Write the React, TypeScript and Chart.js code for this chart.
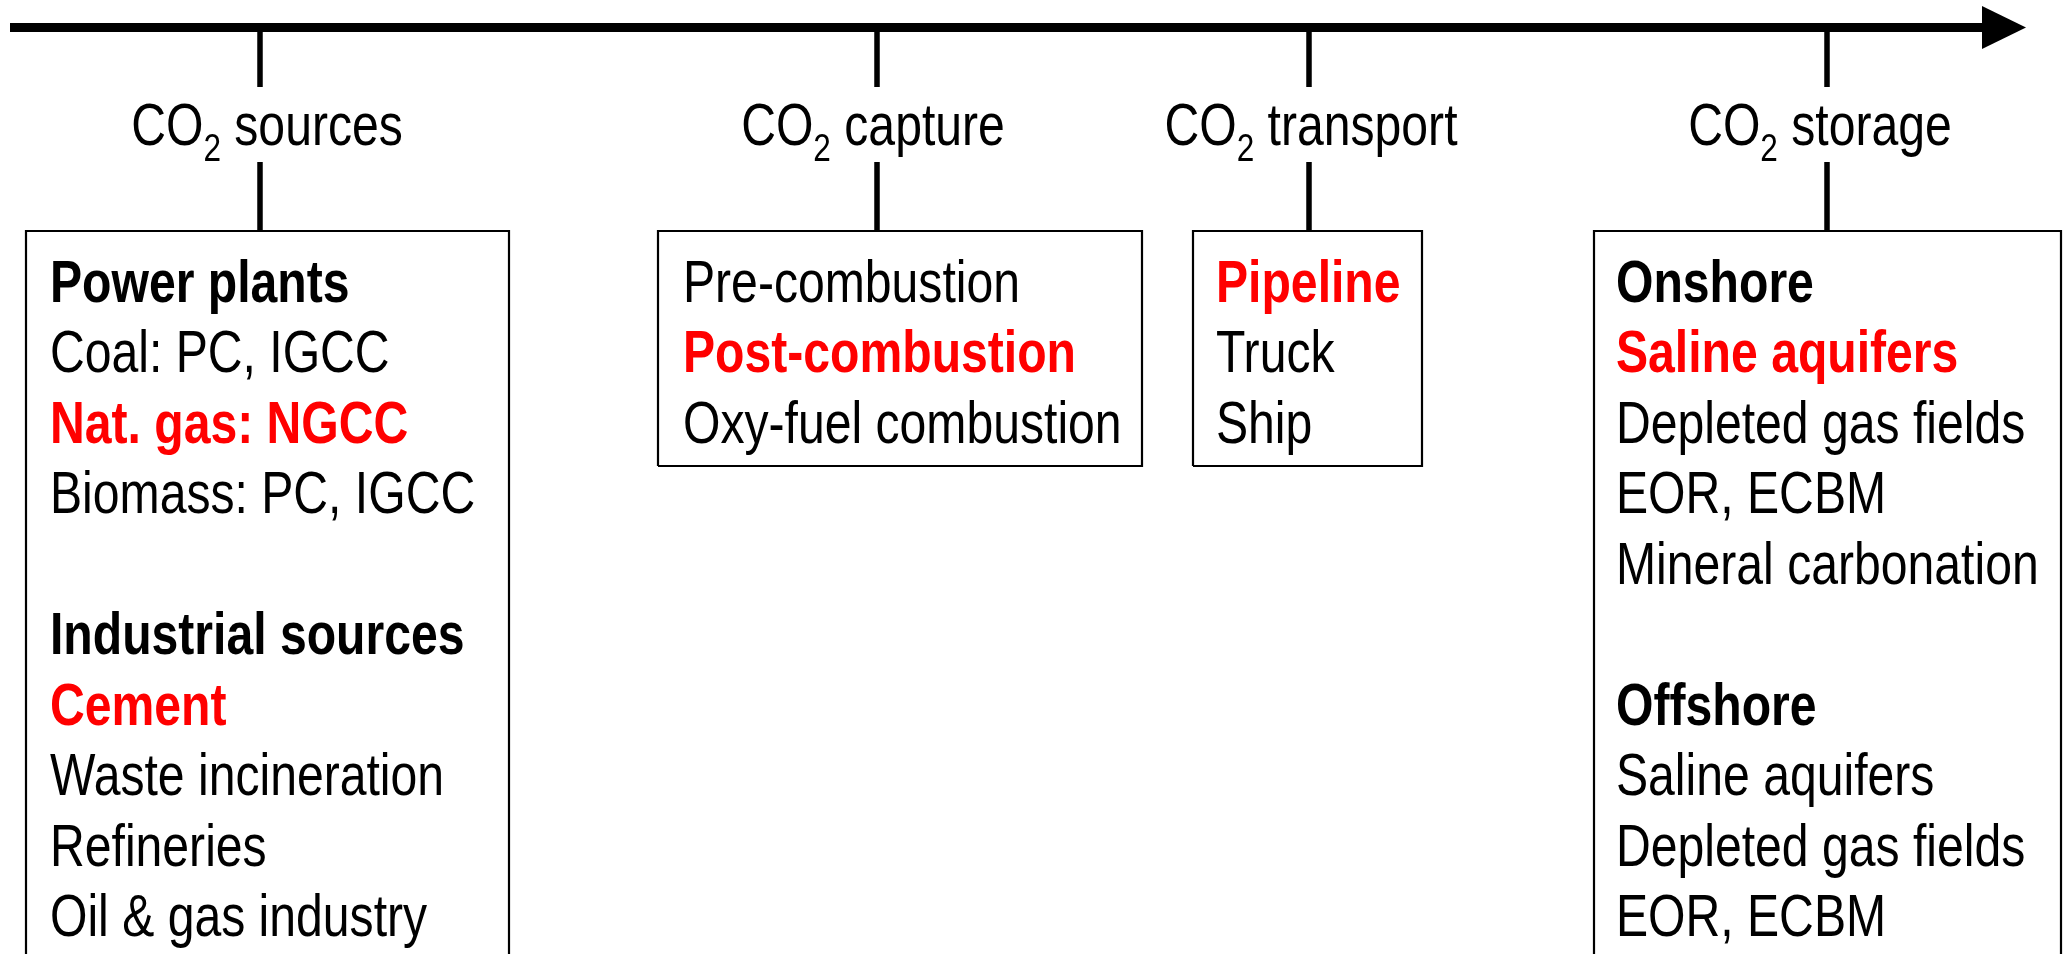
import React, { useEffect, useRef } from "react";
import Chart from "chart.js/auto";

// ---- content ----
const stageNames = ["sources", "capture", "transport", "storage"];
const stageTickX = [260, 877, 1309, 1827];
const stageLabelX = [267, 873, 1311, 1820];
const boxLeft = [26, 658, 1193, 1594];
const boxRight = [509, 1142, 1422, 2061];
const boxBottom = [1000, 466, 466, 1000];
const textX = [50, 683, 1216, 1616];

const sourcesItems: [string, string][] = [
  ["Power plants", "b"],
  ["Coal: PC, IGCC", "n"],
  ["Nat. gas: NGCC", "r"],
  ["Biomass: PC, IGCC", "n"],
  ["", "n"],
  ["Industrial sources", "b"],
  ["Cement", "r"],
  ["Waste incineration", "n"],
  ["Refineries", "n"],
  ["Oil & gas industry", "n"],
];
const captureItems: [string, string][] = [
  ["Pre-combustion", "n"],
  ["Post-combustion", "r"],
  ["Oxy-fuel combustion", "n"],
];
const transportItems: [string, string][] = [
  ["Pipeline", "r"],
  ["Truck", "n"],
  ["Ship", "n"],
];
const storageItems: [string, string][] = [
  ["Onshore", "b"],
  ["Saline aquifers", "r"],
  ["Depleted gas fields", "n"],
  ["EOR, ECBM", "n"],
  ["Mineral carbonation", "n"],
  ["", "n"],
  ["Offshore", "b"],
  ["Saline aquifers", "n"],
  ["Depleted gas fields", "n"],
  ["EOR, ECBM", "n"],
];
const stageItems = [sourcesItems, captureItems, transportItems, storageItems];

// ---- layout (data units == pixels of the 2067x954 frame) ----
const W = 2067;
const H = 954;
const AXIS_Y = 27.5;
const AXIS_X0 = 10;
const AXIS_X1 = 1982;
const ARROW_TIP = 2026;
const ARROW_HALF = 21.5;
const TICK_TOP = [32, 87];
const TICK_BOT = [162, 230];
const BOX_TOP = 231;
const ROW0 = 301.5;
const ROW_STEP = 70.5;
const LABEL_BASE = 145;
const FONT_SIZE = 58.7;
const SUB_SIZE = 38.5;
const SUB_DROP = 15.5;
const RED = "#FF0000";

let fontInfo: { family: string; sx: number } | null = null;
function detectFont(ctx: CanvasRenderingContext2D) {
  if (fontInfo) return fontInfo;
  const probe = "Coal: PC, IGCC";
  ctx.save();
  ctx.font = "100px monospace";
  const base = ctx.measureText(probe).width;
  const cands = ["'Liberation Sans Narrow'", "'Arial Narrow'"];
  for (const c of cands) {
    ctx.font = `100px ${c}, monospace`;
    const w = ctx.measureText(probe).width;
    if (Math.abs(w - base) > 1) {
      ctx.restore();
      fontInfo = { family: c, sx: 1 };
      return fontInfo;
    }
  }
  ctx.restore();
  fontInfo = { family: "'Liberation Sans', Arial, sans-serif", sx: 0.82 };
  return fontInfo;
}

function runWidth(ctx: CanvasRenderingContext2D, text: string, size: number, weight: string) {
  const f = detectFont(ctx);
  ctx.save();
  ctx.font = `${weight} ${size}px ${f.family}`;
  const w = ctx.measureText(text).width * f.sx;
  ctx.restore();
  return w;
}

function drawRun(
  ctx: CanvasRenderingContext2D,
  x: number,
  y: number,
  text: string,
  size: number,
  weight: string,
  color: string
) {
  const f = detectFont(ctx);
  ctx.save();
  ctx.font = `${weight} ${size}px ${f.family}`;
  ctx.fillStyle = color;
  ctx.textAlign = "left";
  ctx.textBaseline = "alphabetic";
  ctx.translate(x, y);
  ctx.scale(f.sx, 1);
  ctx.fillText(text, 0, 0);
  ctx.restore();
  return runWidth(ctx, text, size, weight);
}

const textPlugin = {
  id: "ccsText",
  afterDatasetsDraw(chart: any) {
    const ctx: CanvasRenderingContext2D = chart.ctx;
    const xs = chart.scales.x;
    const ys = chart.scales.y;
    // arrow head
    ctx.save();
    ctx.fillStyle = "#000";
    ctx.beginPath();
    ctx.moveTo(xs.getPixelForValue(AXIS_X1), ys.getPixelForValue(AXIS_Y - ARROW_HALF));
    ctx.lineTo(xs.getPixelForValue(ARROW_TIP), ys.getPixelForValue(AXIS_Y));
    ctx.lineTo(xs.getPixelForValue(AXIS_X1), ys.getPixelForValue(AXIS_Y + ARROW_HALF));
    ctx.closePath();
    ctx.fill();
    ctx.restore();

    stageNames.forEach((name, i) => {
      // stage label: CO₂ + name
      const parts: [string, number, number][] = [
        ["CO", FONT_SIZE, 0],
        ["2", SUB_SIZE, SUB_DROP],
        [" " + name, FONT_SIZE, 0],
      ];
      const total = parts.reduce((s, p) => s + runWidth(ctx, p[0], p[1], "normal"), 0);
      let x = xs.getPixelForValue(stageLabelX[i]) - total / 2;
      const yb = ys.getPixelForValue(LABEL_BASE);
      for (const p of parts) {
        x += drawRun(ctx, x, yb + p[2], p[0], p[1], "normal", "#000");
      }
      // items
      stageItems[i].forEach((it, r) => {
        if (!it[0]) return;
        const weight = it[1] === "n" ? "normal" : "bold";
        const color = it[1] === "r" ? RED : "#000";
        drawRun(
          ctx,
          xs.getPixelForValue(textX[i]),
          ys.getPixelForValue(ROW0 + r * ROW_STEP),
          it[0],
          FONT_SIZE,
          weight,
          color
        );
      });
    });
  },
};

function buildDatasets() {
  const ds: any[] = [];
  ds.push({
    data: [
      { x: AXIS_X0, y: AXIS_Y },
      { x: AXIS_X1 + 1, y: AXIS_Y },
    ],
    borderColor: "#000",
    borderWidth: 9,
  });
  stageTickX.forEach((tx) => {
    ds.push({
      data: [
        { x: tx, y: TICK_TOP[0] },
        { x: tx, y: TICK_TOP[1] },
      ],
      borderColor: "#000",
      borderWidth: 5.5,
    });
    ds.push({
      data: [
        { x: tx, y: TICK_BOT[0] },
        { x: tx, y: TICK_BOT[1] },
      ],
      borderColor: "#000",
      borderWidth: 5.5,
    });
  });
  stageNames.forEach((_, i) => {
    ds.push({
      data: [
        { x: boxLeft[i], y: boxBottom[i] },
        { x: boxLeft[i], y: BOX_TOP },
        { x: boxRight[i], y: BOX_TOP },
        { x: boxRight[i], y: boxBottom[i] },
        { x: boxLeft[i], y: boxBottom[i] },
      ],
      borderColor: "#000",
      borderWidth: 2.2,
    });
  });
  return ds.map((d) => ({
    ...d,
    showLine: true,
    pointRadius: 0,
    pointHoverRadius: 0,
    fill: false,
    tension: 0,
    clip: false,
    borderCapStyle: "butt",
    borderJoinStyle: "miter",
  }));
}

export default function App() {
  const ref = useRef<HTMLCanvasElement | null>(null);
  useEffect(() => {
    document.body.style.margin = "0";
    const canvas = ref.current!;
    const chart = new Chart(canvas, {
      type: "scatter",
      data: { datasets: buildDatasets() },
      options: {
        animation: false,
        responsive: false,
        devicePixelRatio: 1,
        layout: { padding: 0 },
        events: [],
        plugins: {
          legend: { display: false },
          tooltip: { enabled: false },
          title: { display: false },
        },
        scales: {
          x: { type: "linear", min: 0, max: W, display: false },
          y: { type: "linear", min: 0, max: H, reverse: true, display: false },
        },
      },
      plugins: [textPlugin],
    });
    return () => chart.destroy();
  }, []);
  return (
    <div style={{ position: "absolute", left: 0, top: 0, width: W, height: H, background: "#fff" }}>
      <canvas ref={ref} width={W} height={H} style={{ display: "block" }} />
    </div>
  );
}
